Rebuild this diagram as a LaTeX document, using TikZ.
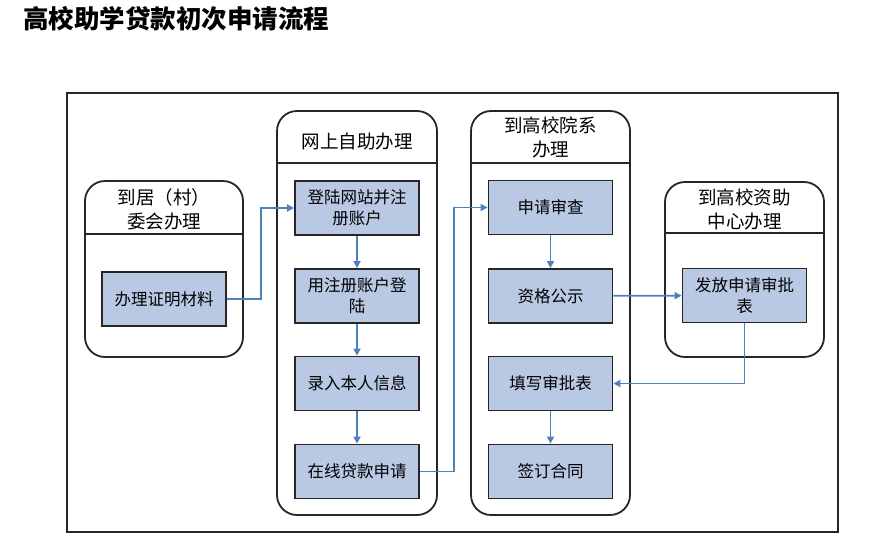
\documentclass[tikz,border=0pt]{standalone}
\usepackage{fontspec}
\newfontfamily\cjk{Noto Sans CJK SC}
\usetikzlibrary{arrows.meta}
\definecolor{boxfill}{HTML}{B9C9E3}
\definecolor{connblue}{HTML}{4F81BD}
\definecolor{edge}{HTML}{262626}
\tikzset{
  lane/.style={draw=edge, line width=1.8pt, rounded corners=20pt, inner sep=0pt},
  stepbox/.style={draw=edge, line width=1.8pt, fill=boxfill, minimum width=124pt, minimum height=54pt,
    inner sep=0pt, align=center, font=\cjk\fontsize{16.5}{21}\selectfont},
  headtext/.style={align=center, inner sep=0pt, font=\cjk\fontsize{18.5}{24}\selectfont},
  conn/.style={draw=connblue, line width=1.7pt, -{Triangle[length=7pt,width=7pt]}},
  divider/.style={draw=edge, line width=1.8pt},
}
\begin{document}
\begin{tikzpicture}[x=1pt,y=-1pt]
\useasboundingbox (0,0) rectangle (869,552);
% title
\node[anchor=west, inner sep=0pt, font=\cjk\bfseries\fontsize{25.5}{28}\selectfont] (title) at (23,19) {高校助学贷款初次申请流程};
% outer frame
\node[draw=edge, line width=1.8pt, minimum width=771pt, minimum height=439pt, inner sep=0pt] (frame) at (452.5,312.5) {};
% lanes
\node[lane, minimum width=158pt, minimum height=176pt] (L1) at (164,269) {};
\node[lane, minimum width=160pt, minimum height=404pt] (L2) at (357,313) {};
\node[lane, minimum width=159pt, minimum height=404pt] (L3) at (550.5,313) {};
\node[lane, minimum width=159pt, minimum height=175pt] (L4) at (744.5,269.5) {};
\draw[divider] (L1.west |- 0,234) -- (L1.east |- 0,234);
\draw[divider] (L2.west |- 0,163) -- (L2.east |- 0,163);
\draw[divider] (L3.west |- 0,163) -- (L3.east |- 0,163);
\draw[divider] (L4.west |- 0,233) -- (L4.east |- 0,233);
% headers
\node[headtext] (h1) at (164,209) {到居（村）\\委会办理};
\node[headtext] (h2) at (357,141) {网上自助办理};
\node[headtext] (h3) at (550.5,137) {到高校院系\\办理};
\node[headtext] (h4) at (744.5,209) {到高校资助\\中心办理};
% boxes
\node[stepbox] (b1) at (164,299) {办理证明材料};
\node[stepbox] (a1) at (357,208) {登陆网站并注\\册账户};
\node[stepbox] (a2) at (357,296) {用注册账户登\\陆};
\node[stepbox] (a3) at (357,383.5) {录入本人信息};
\node[stepbox] (a4) at (357,471.5) {在线贷款申请};
\node[stepbox] (c1) at (550.5,207.5) {申请审查};
\node[stepbox] (c2) at (550.5,296) {资格公示};
\node[stepbox] (c3) at (550.5,383.5) {填写审批表};
\node[stepbox] (c4) at (550.5,471.5) {签订合同};
\node[stepbox] (d1) at (744.5,295.5) {发放申请审批\\表};
% connectors
\draw[conn] (b1.east) -- ++(34,0) |- (a1.west);
\draw[conn] (a1) -- (a2);
\draw[conn] (a2) -- (a3);
\draw[conn] (a3) -- (a4);
\draw[conn] (a4.east) -- ++(34,0) |- (c1.west);
\draw[conn] (c1) -- (c2);
\draw[conn] (c2) -- (d1);
\draw[conn] (d1.south) |- (c3.east);
\draw[conn] (c3) -- (c4);
\end{tikzpicture}
\end{document}
